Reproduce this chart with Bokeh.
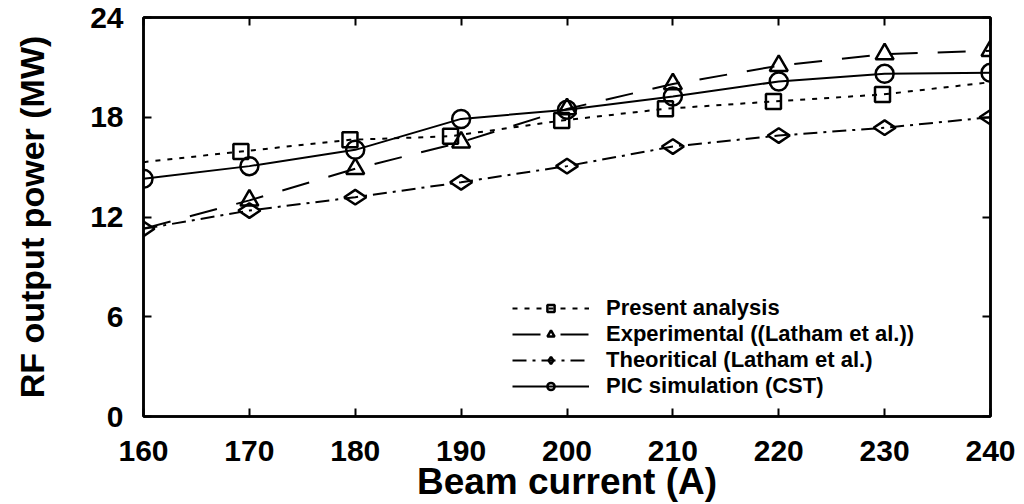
from bokeh.plotting import figure
from bokeh.models import Range1d, LinearAxis, Legend, LegendItem, FixedTicker
from bokeh.embed import file_html
from bokeh.resources import INLINE

# ---- data ----
current = [160, 170, 180, 190, 200, 210, 220, 230, 240]
present_x = [160, 169.2, 179.5, 189.0, 199.5, 209.3, 219.5, 229.8, 240]
present = [15.3, 15.94, 16.64, 16.86, 17.8, 18.51, 18.95, 19.37, 20.11]
experimental = [11.3, 13.0, 14.9, 16.5, 18.5, 20.0, 21.1, 21.8, 22.0]
theoretical = [11.29, 12.39, 13.19, 14.09, 15.06, 16.24, 16.9, 17.37, 18.0]
pic = [14.3, 15.06, 16.04, 17.9, 18.45, 19.25, 20.15, 20.61, 20.67]

x_ticks = [160, 170, 180, 190, 200, 210, 220, 230, 240]
y_ticks = [0, 6, 12, 18, 24]

labels = ["Present analysis", "Experimental ((Latham et al.))",
          "Theoritical (Latham et al.)", "PIC simulation (CST)"]

FONT = "Liberation Sans"

p = figure(width=1024, height=504, output_backend="svg", toolbar_location=None,
           x_range=Range1d(160, 240), y_range=Range1d(0, 24),
           min_border_left=143, min_border_right=34, min_border_top=17,
           min_border_bottom=88)
p.grid.visible = False
p.outline_line_color = "black"
p.outline_line_width = 2.5
p.background_fill_color = "white"
p.border_fill_color = "white"

for ax in (p.xaxis[0], p.yaxis[0]):
    ax.major_tick_in = 8
    ax.major_tick_out = 0
    ax.minor_tick_line_color = None
    ax.axis_line_width = 2.5
    ax.major_tick_line_width = 2
    ax.major_label_text_font = FONT
    ax.major_label_text_font_style = "bold"
    ax.major_label_text_font_size = "30px"
    ax.major_label_text_color = "black"
    ax.axis_label_text_font = FONT
    ax.axis_label_text_font_style = "bold"
    ax.axis_label_text_color = "black"

p.xaxis.ticker = FixedTicker(ticks=x_ticks)
p.yaxis.ticker = FixedTicker(ticks=y_ticks)
p.xaxis.axis_label = "Beam current (A)"
p.yaxis.axis_label = "RF output power (MW)"
p.xaxis.axis_label_text_font_size = "37px"
p.yaxis.axis_label_text_font_size = "34px"
p.xaxis.major_label_standoff = 24
p.xaxis.axis_label_standoff = -3
p.yaxis.major_label_standoff = 20
p.yaxis.axis_label_standoff = 36

top = LinearAxis(ticker=FixedTicker(ticks=x_ticks), major_tick_in=8, major_tick_out=0,
                 minor_tick_line_color=None,
                 major_label_overrides={t: "" for t in x_ticks},
                 axis_line_width=2.5, major_tick_line_width=2, major_label_standoff=0)
right = LinearAxis(ticker=FixedTicker(ticks=y_ticks), major_tick_in=8, major_tick_out=0,
                   minor_tick_line_color=None,
                   major_label_overrides={t: "" for t in y_ticks},
                   axis_line_width=2.5, major_tick_line_width=2, major_label_standoff=0)
p.add_layout(top, "above")
p.add_layout(right, "right")

# ---- series ----
l1 = p.line(present_x, present, line_color="black", line_width=2, line_dash="5 7")
s1 = p.scatter(present_x[1:8], present[1:8], marker="square", size=15,
               fill_color=None, line_color="black", line_width=2.5)

l2 = p.line(current, experimental, line_color="black", line_width=2, line_dash="28 20")
s2 = p.scatter(current[1:], experimental[1:], marker="triangle", size=18,
               fill_color=None, line_color="black", line_width=2.5)

l3 = p.line(current, theoretical, line_color="black", line_width=2, line_dash="14 6 3 6")
s3 = p.scatter(current, theoretical, marker="diamond", angle=1.5708, size=22,
               fill_color=None, line_color="black", line_width=2.5)

l4 = p.line(current, pic, line_color="black", line_width=2)
s4 = p.scatter(current, pic, marker="circle", size=18,
               fill_color=None, line_color="black", line_width=2.5)

legend = Legend(items=[LegendItem(label=labels[0], renderers=[l1, s1]),
                       LegendItem(label=labels[1], renderers=[l2, s2]),
                       LegendItem(label=labels[2], renderers=[l3, s3]),
                       LegendItem(label=labels[3], renderers=[l4, s4])],
                location=(369, 17), orientation="vertical")
legend.border_line_color = None
legend.background_fill_alpha = 0
legend.glyph_width = 77
legend.glyph_height = 18
legend.label_height = 18
legend.spacing = 0
legend.padding = 4
legend.margin = 0
legend.label_standoff = 17
legend.label_text_font = FONT
legend.label_text_font_style = "bold"
legend.label_text_font_size = "22px"
legend.label_text_color = "black"
legend.label_text_baseline = "middle"
p.add_layout(legend, "center")

open("out.html", "w").write(file_html(p, INLINE))
